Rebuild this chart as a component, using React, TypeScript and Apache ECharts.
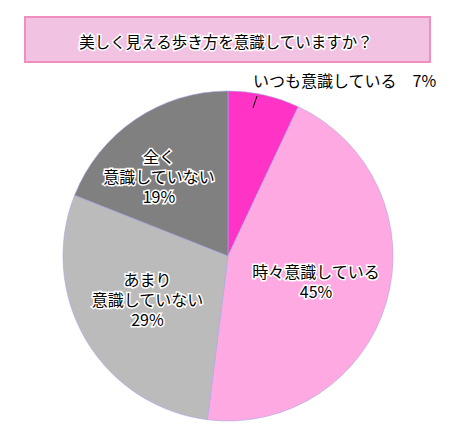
import React, { useEffect, useRef } from 'react'
import * as echarts from 'echarts'

const title = '美しく見える歩き方を意識していますか？'
const categories = [
  'いつも意識している',
  '時々意識している',
  'あまり\n意識していない',
  '全く\n意識していない',
]
const values = [7, 45, 29, 19]
const colors = ['#ff33c6', '#ffa9e2', '#bbbbbb', '#808080']

const FONT = '"Noto Sans CJK JP", "Noto Sans", sans-serif'

const App: React.FC = () => {
  const chartRef = useRef<HTMLDivElement>(null)

  useEffect(() => {
    if (!chartRef.current) return
    document.body.style.margin = '0'
    const chart = echarts.init(chartRef.current, null, { renderer: 'svg' })

    const option: echarts.EChartsOption = {
      animation: false,
      backgroundColor: '#ffffff',
      title: {
        text: title,
        left: 'center',
        top: 28,
        textStyle: {
          fontFamily: FONT,
          fontSize: 15.5,
          fontWeight: 'normal',
          color: '#000',
          textBorderColor: '#fff',
          textBorderWidth: 3,
        },
      },
      graphic: [
        {
          type: 'rect',
          left: 24,
          top: 16,
          z: -1,
          shape: { width: 405, height: 45 },
          style: { fill: '#f2c2e3', stroke: '#ee8fc0', lineWidth: 2 },
        },
        {
          // leader line of the small slice label
          type: 'line',
          z: 10,
          shape: { x1: 253, y1: 108, x2: 257, y2: 96 },
          style: { stroke: '#000', lineWidth: 1 },
        },
      ],
      series: [
        {
          type: 'pie',
          center: [228, 256],
          radius: 165,
          startAngle: 90,
          clockwise: true,
          data: categories.map((name, i) => ({
            name,
            value: values[i],
            itemStyle: { color: colors[i] },
            ...(i === 0
              ? {
                  label: {
                    position: 'outside' as const,
                    overflow: 'none' as const,
                    width: 300,
                  },
                }
              : {}),
          })),
          itemStyle: {
            borderColor: '#a4a8e6',
            borderWidth: 0.6,
          },
          label: {
            show: true,
            position: 'inside',
            fontFamily: FONT,
            fontSize: 16,
            lineHeight: 20,
            color: '#000',
            textBorderColor: '#fff',
            textBorderWidth: 3,
            align: 'center',
            formatter: (p: any) =>
              p.dataIndex === 0
                ? `${p.name}　${p.value}%`
                : `${p.name}\n${p.value}%`,
          },
          labelLine: { show: false },
          labelLayout: (params: any) => {
            if (params.dataIndex === 0) {
              return { x: 253, y: 80, align: 'left', verticalAlign: 'middle' }
            }
            if (params.dataIndex === 1) return { dx: 6, dy: 1 }
            if (params.dataIndex === 2) return { dx: -7, dy: -1 }
            if (params.dataIndex === 3) return { dx: -21, dy: -9 }
            return {}
          },
          emphasis: { disabled: true },
        },
      ],
    }

    chart.setOption(option)
    return () => {
      chart.dispose()
    }
  }, [])

  return <div ref={chartRef} style={{ width: 452, height: 431 }} />
}

export default App
